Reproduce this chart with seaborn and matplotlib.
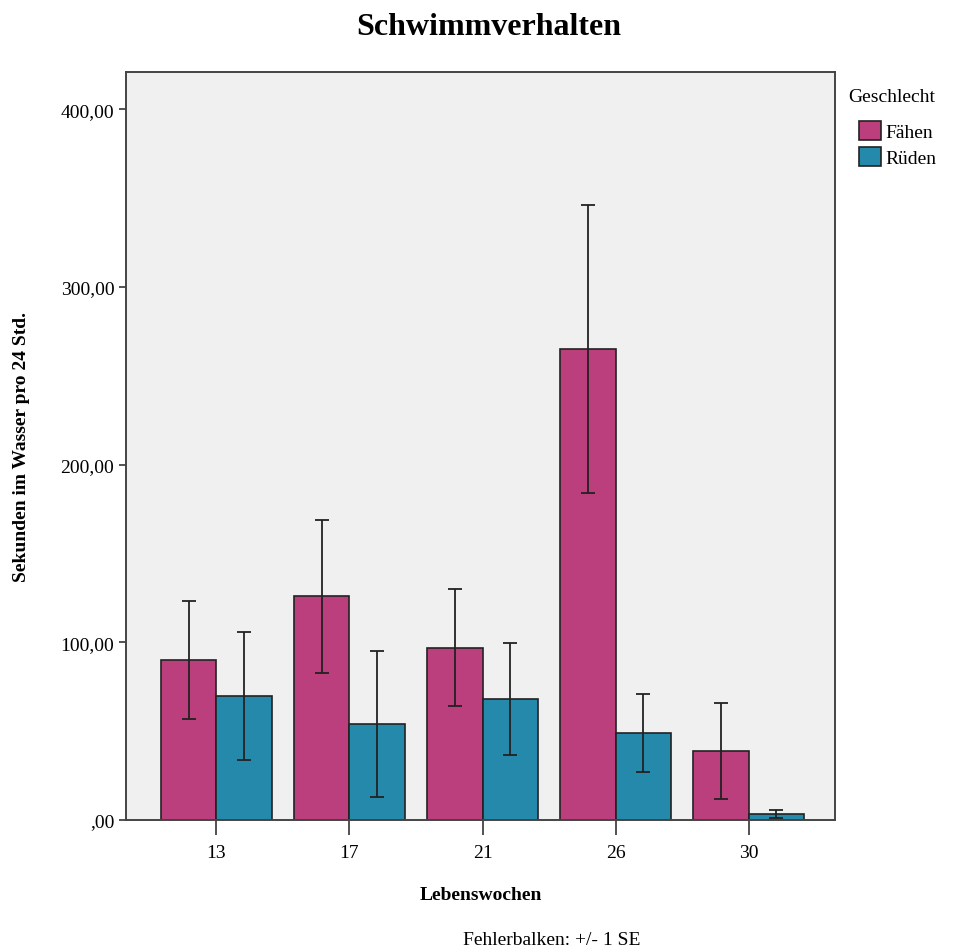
import matplotlib
matplotlib.use('Agg')
import matplotlib.pyplot as plt
import pandas as pd
import seaborn as sns

# Werte
wochen = ['13', '17', '21', '26', '30']
geschlecht = ['Fähen', 'Rüden']
mittel_faehen = [90, 126, 97, 265, 39]
se_faehen = [33, 43, 33, 81, 27]
mittel_rueden = [70, 54, 68, 49, 3.5]
se_rueden = [36, 41, 31.5, 22, 2.3]
farben = ['#BA3F7C', '#2589AB']

df = pd.DataFrame({
    'woche': wochen * 2,
    'geschlecht': [geschlecht[0]] * 5 + [geschlecht[1]] * 5,
    'wert': mittel_faehen + mittel_rueden,
    'se': se_faehen + se_rueden,
})

sns.set_style('white')
plt.rcParams['font.family'] = ['Liberation Serif', 'DejaVu Serif']
plt.rcParams['text.color'] = 'black'
plt.rcParams['axes.labelcolor'] = 'black'
plt.rcParams['xtick.color'] = 'black'
plt.rcParams['ytick.color'] = 'black'

fig = plt.figure(figsize=(9.59, 9.53), dpi=100)
ax = fig.add_axes([0.1314, 0.1385, 0.7393, 0.7849])
ax.set_facecolor('#F0F0F0')

sns.barplot(data=df, x='woche', y='wert', hue='geschlecht', order=wochen,
            hue_order=geschlecht, palette=farben, width=0.83, errorbar=None,
            edgecolor='#222222', linewidth=1.2, saturation=1, ax=ax)

# Fehlerbalken (+/- 1 SE) an den Balkenmitten
balken = [p for p in ax.patches if p.get_height() > 0]
for p, se in zip(balken, df['se']):
    xm = p.get_x() + p.get_width() / 2
    ax.errorbar(xm, p.get_height(), yerr=se, color='#222222', lw=1.3,
                capsize=5, capthick=1.3, zorder=5)

ax.set_xlim(-0.68, 4.65)
ax.set_ylim(0, 421)
ax.set_yticks([0, 100, 200, 300, 400])
ax.set_yticklabels([',00', '100,00', '200,00', '300,00', '400,00'])
ax.tick_params(axis='y', direction='out', length=5, width=1.2, labelsize=14,
               left=True, color='#333333')
ax.tick_params(axis='x', direction='out', length=11, width=1.2, labelsize=14,
               bottom=True, color='#333333', pad=6)
for s in ax.spines.values():
    s.set_visible(True)
    s.set_color('#444444')
    s.set_linewidth(1.4)

ax.set_xlabel('Lebenswochen', fontsize=14, fontweight='bold', labelpad=18)
ax.set_ylabel('Sekunden im Wasser pro 24 Std.', fontsize=14,
              fontweight='bold', labelpad=22)

fig.text(0.51, 0.971, 'Schwimmverhalten', ha='center', va='center',
         fontsize=23, fontweight='bold')
fig.text(0.575, 0.0136, 'Fehlerbalken: +/- 1 SE', ha='center',
         va='center', fontsize=14)

# Legende rechts neben dem Diagramm
fig.text(0.884, 0.898, 'Geschlecht', ha='left', va='center', fontsize=14)
leg = ax.legend(loc='upper left', bbox_to_anchor=(1.018, 0.95),
                frameon=False, fontsize=14, handlelength=1.1,
                handleheight=1.1, handletextpad=0.25, borderaxespad=0.2,
                labelspacing=0.3)

fig.savefig('out.png', dpi=100, facecolor='white')
